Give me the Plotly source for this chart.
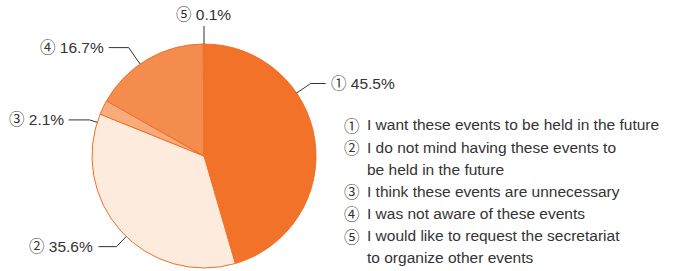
import math
import plotly.graph_objects as go

# ---- data ----
slice_nums = ["①", "②", "③", "④", "⑤"]
values = [45.5, 35.6, 2.1, 16.7, 0.1]
pct_labels = ["45.5%", "35.6%", "2.1%", "16.7%", "0.1%"]
legend_lines = [
    ["I want these events to be held in the future"],
    ["I do not mind having these events to", "be held in the future"],
    ["I think these events are unnecessary"],
    ["I was not aware of these events"],
    ["I would like to request the secretariat", "to organize other events"],
]

# ---- style ----
colors = ["#F3722A", "#FDEBDE", "#F8AC7C", "#F48C4D", "#F5905A"]
edge_color = "#F07028"
text_color = "#333333"
font_family = "Liberation Sans, Noto Sans CJK JP, sans-serif"
num_family = "Noto Sans CJK JP, sans-serif"
fs = 15.5
W, H = 673, 271
cx, cy, R = 204, 156, 112
anchor_deg = [55.8, 224.0, 287.5, 325.2, 0.0]
elbow_len = [17, 14, 8, 20, 18]
tail_len = [15, 18, 21, 20, 0]
leg_x_num, leg_x_text, leg_y0, leg_dy = 342, 365, 125, 22.1


def px(x):
    return x / W


def py(y):
    return 1 - y / H


fig = go.Figure(go.Pie(
    values=values,
    labels=[f"{n} {t}" for n, t in zip(slice_nums, pct_labels)],
    sort=False,
    direction="clockwise",
    rotation=0,
    marker=dict(colors=colors, line=dict(color=edge_color, width=1)),
    textinfo="none",
    hoverinfo="label",
    showlegend=False,
    domain=dict(x=[px(cx - R), px(cx + R)], y=[py(cy + R), py(cy - R)]),
))

shapes = []
annotations = []
for i, (num, pct) in enumerate(zip(slice_nums, pct_labels)):
    a = math.radians(anchor_deg[i])
    ux, uy = math.sin(a), -math.cos(a)
    sx, sy = cx + R * ux, cy + R * uy
    ex, ey = sx + elbow_len[i] * ux, sy + elbow_len[i] * uy
    if tail_len[i] > 0:
        side = 1 if ux > 0 else -1
        tx = ex + side * tail_len[i]
        path = f"M {px(sx)} {py(sy)} L {px(ex)} {py(ey)} L {px(tx)} {py(ey)}"
        annotations.append(dict(
            x=px(tx + side * 3), y=py(ey), xref="paper", yref="paper",
            text=f"{num} {pct}", showarrow=False,
            xanchor="left" if side > 0 else "right", yanchor="middle",
            font=dict(size=fs, color=text_color, family=font_family),
        ))
    else:
        path = f"M {px(sx)} {py(sy)} L {px(ex)} {py(ey)}"
        annotations.append(dict(
            x=px(ex), y=py(ey - 1), xref="paper", yref="paper",
            text=f"{num} {pct}", showarrow=False,
            xanchor="center", yanchor="bottom",
            font=dict(size=fs, color=text_color, family=font_family),
        ))
    shapes.append(dict(type="path", path=path, xref="paper", yref="paper",
                       line=dict(color=text_color, width=1)))

row = 0
for num, lines in zip(slice_nums, legend_lines):
    y = leg_y0 + row * leg_dy
    annotations.append(dict(
        x=px(leg_x_num), y=py(y), xref="paper", yref="paper", text=num,
        showarrow=False, xanchor="left", yanchor="middle",
        font=dict(size=fs, color=text_color, family=num_family),
    ))
    for ln in lines:
        y = leg_y0 + row * leg_dy
        annotations.append(dict(
            x=px(leg_x_text), y=py(y), xref="paper", yref="paper", text=ln,
            showarrow=False, xanchor="left", yanchor="middle",
            font=dict(size=fs, color=text_color, family=font_family),
        ))
        row += 1

fig.update_layout(
    width=W, height=H,
    margin=dict(l=0, r=0, t=0, b=0),
    paper_bgcolor="white", plot_bgcolor="white",
    shapes=shapes, annotations=annotations,
)
fig.write_html("out.html", config={"displayModeBar": False},
               post_script="document.body.style.margin='0';")
